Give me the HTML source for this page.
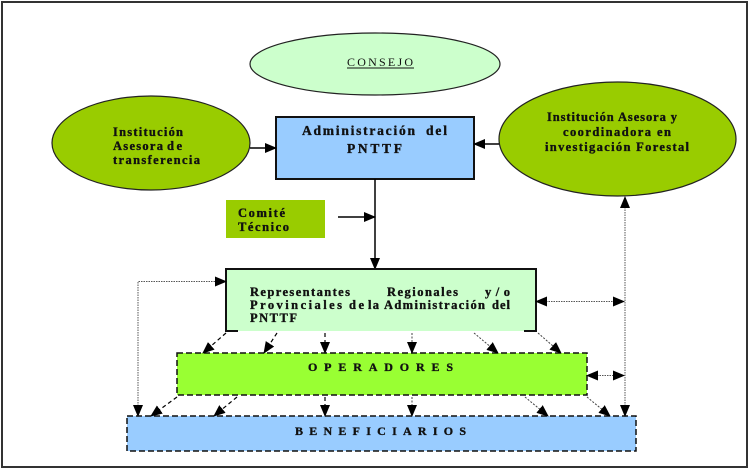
<!DOCTYPE html>
<html><head><meta charset="utf-8"><style>
html,body{margin:0;padding:0;background:#fff;}
svg{display:block;}
text{font-family:"Liberation Serif",serif;fill:#111;}
.b{font-weight:bold;font-size:12.5px;stroke:#111;stroke-width:0.35;}
</style></head><body>
<svg width="750" height="470" viewBox="0 0 750 470" xmlns="http://www.w3.org/2000/svg">
<defs>
<marker id="ah" markerUnits="userSpaceOnUse" markerWidth="12" markerHeight="10" refX="11" refY="5" orient="auto">
<path d="M0,0 L12,5 L0,10 Z" fill="#000"/>
</marker>
<marker id="ahs" markerUnits="userSpaceOnUse" markerWidth="12" markerHeight="10" refX="11" refY="5" orient="auto-start-reverse">
<path d="M0,0 L12,5 L0,10 Z" fill="#000"/>
</marker>
</defs>
<rect x="0" y="0" width="750" height="470" fill="#fff"/>
<rect x="2" y="2" width="745" height="465" fill="none" stroke="#333" stroke-width="2"/>

<!-- Consejo -->
<ellipse cx="375" cy="64" rx="125" ry="31" fill="#ccffcc" stroke="#222" stroke-width="1.2"/>
<text x="347" y="66" font-size="12" textLength="66" lengthAdjust="spacing">CONSEJO</text>
<line x1="347" y1="68" x2="414" y2="68" stroke="#111" stroke-width="1"/>

<!-- left ellipse -->
<ellipse cx="151" cy="143" rx="99" ry="47" fill="#99cc00" stroke="#222" stroke-width="1.2"/>
<text class="b" x="113" y="136" textLength="70" lengthAdjust="spacing">Institución</text>
<text class="b" x="113" y="150" textLength="50" lengthAdjust="spacing">Asesora</text>
<text class="b" x="167" y="150" textLength="15" lengthAdjust="spacing">de</text>
<text class="b" x="113" y="164" textLength="87" lengthAdjust="spacing">transferencia</text>

<!-- right ellipse -->
<ellipse cx="617.5" cy="139" rx="118.5" ry="57" fill="#99cc00" stroke="#222" stroke-width="1.2"/>
<text class="b" x="547" y="121" textLength="130" lengthAdjust="spacing">Institución Asesora y</text>
<text class="b" x="563" y="136" textLength="108" lengthAdjust="spacing">coordinadora en</text>
<text class="b" x="545" y="151" textLength="144" lengthAdjust="spacing">investigación Forestal</text>

<!-- Admin box -->
<rect x="276" y="117" width="198" height="62" fill="#99ccff" stroke="#111" stroke-width="2"/>
<text class="b" x="302" y="135" style="font-size:13.5px" textLength="113" lengthAdjust="spacing">Administración</text>
<text class="b" x="426" y="135" style="font-size:13.5px" textLength="21" lengthAdjust="spacing">del</text>
<text class="b" x="347" y="153" style="font-size:13.5px" textLength="55" lengthAdjust="spacing">PNTTF</text>

<!-- arrows to admin -->
<line x1="250" y1="148" x2="276" y2="148" stroke="#000" stroke-width="1.5" marker-end="url(#ah)"/>
<line x1="499" y1="144" x2="474" y2="144" stroke="#000" stroke-width="1.5" marker-end="url(#ah)"/>

<!-- Comité -->
<rect x="226" y="200" width="99" height="38" fill="#99cc00"/>
<text class="b" x="238" y="217" textLength="47" lengthAdjust="spacing">Comité</text>
<text class="b" x="238" y="231" textLength="51" lengthAdjust="spacing">Técnico</text>
<line x1="338" y1="217" x2="375" y2="217" stroke="#000" stroke-width="1.5" marker-end="url(#ah)"/>

<!-- vertical admin -> rep -->
<line x1="375" y1="179" x2="375" y2="269" stroke="#000" stroke-width="1.5" marker-end="url(#ah)"/>

<!-- Rep box -->
<rect x="226" y="269" width="310" height="62" fill="#ccffcc"/>
<path d="M238,331 L226,331 L226,269 L536,269 L536,331 L524,331" fill="none" stroke="#111" stroke-width="2"/>
<text class="b" x="250" y="296" textLength="100" lengthAdjust="spacing">Representantes</text>
<text class="b" x="387" y="296" textLength="71" lengthAdjust="spacing">Regionales</text>
<text class="b" x="485" y="296" textLength="25" lengthAdjust="spacing">y/o</text>
<text class="b" x="250" y="309" textLength="92" lengthAdjust="spacing">Provinciales</text>
<text class="b" x="349" y="309" textLength="15" lengthAdjust="spacing">de</text>
<text class="b" x="368" y="309" textLength="11" lengthAdjust="spacing">la</text>
<text class="b" x="384" y="309" textLength="101" lengthAdjust="spacing">Administración</text>
<text class="b" x="492" y="309" textLength="18" lengthAdjust="spacing">del</text>
<text class="b" x="250" y="322" textLength="47" lengthAdjust="spacing">PNTTF</text>

<!-- Operadores -->
<rect x="177" y="353" width="410" height="42" fill="#99ff33" stroke="#111" stroke-width="1.5" stroke-dasharray="6,3"/>
<text class="b" x="308" y="371" style="font-size:12px" textLength="145" lengthAdjust="spacing">OPERADORES</text>

<!-- Beneficiarios -->
<rect x="127" y="416" width="509" height="35" fill="#99ccff" stroke="#111" stroke-width="1.5" stroke-dasharray="6,3"/>
<text class="b" x="295" y="435" style="font-size:12px" textLength="171" lengthAdjust="spacing">BENEFICIARIOS</text>

<!-- dashed arrows rep -> operadores -->
<g stroke="#000" stroke-width="1.2" stroke-dasharray="4,3" fill="none">
<line x1="226" y1="333" x2="203" y2="353" marker-end="url(#ah)"/>
<line x1="277" y1="333" x2="264" y2="353" marker-end="url(#ah)"/>
<line x1="325" y1="333" x2="325" y2="353" marker-end="url(#ah)"/>
<line x1="177" y1="397" x2="151" y2="416" marker-end="url(#ah)"/>
<line x1="237" y1="397" x2="214" y2="416" marker-end="url(#ah)"/>
<line x1="325" y1="397" x2="325" y2="416" marker-end="url(#ah)"/>
</g>
<g stroke="#444" stroke-width="1" stroke-dasharray="2,1.5" fill="none">
<line x1="412" y1="333" x2="412" y2="353" marker-end="url(#ah)"/>
<line x1="474" y1="333" x2="498" y2="353" marker-end="url(#ah)"/>
<line x1="538" y1="333" x2="561" y2="353" marker-end="url(#ah)"/>
<line x1="412" y1="397" x2="412" y2="416" marker-end="url(#ah)"/>
<line x1="525" y1="397" x2="548" y2="416" marker-end="url(#ah)"/>
<line x1="587" y1="397" x2="610" y2="416" marker-end="url(#ah)"/>
</g>

<!-- dotted connectors -->
<g stroke="#555" stroke-width="1" stroke-dasharray="1.5,1" fill="none">
<line x1="625" y1="416" x2="625" y2="197" marker-start="url(#ahs)" marker-end="url(#ah)"/>
<line x1="536" y1="301.5" x2="624" y2="301.5" marker-start="url(#ahs)" marker-end="url(#ah)"/>
<line x1="587" y1="375.5" x2="624" y2="375.5" marker-start="url(#ahs)" marker-end="url(#ah)"/>
<path d="M138,416 L138,281.5 L226,281.5" marker-start="url(#ahs)" marker-end="url(#ah)"/>
</g>
</svg>
</body></html>
